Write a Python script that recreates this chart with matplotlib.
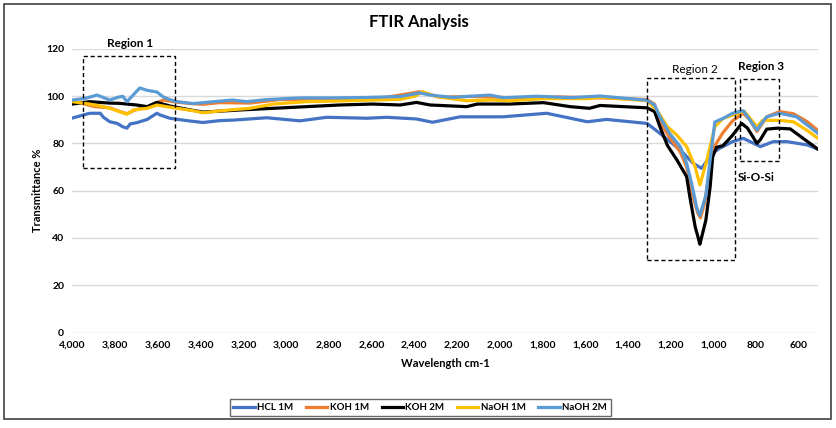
import matplotlib
matplotlib.use("Agg")
import matplotlib.pyplot as plt
from matplotlib.patches import Rectangle

plt.rcParams['font.family'] = ['Lato', 'DejaVu Sans']

# wavenumber (cm-1) / transmittance (%)
hcl_x = [4000, 3920, 3870, 3855, 3825, 3790, 3765, 3745, 3730, 3700,
         3650, 3605, 3590, 3545, 3465, 3390, 3310, 3250, 3090, 2935,
         2810, 2620, 2530, 2390, 2315, 2185, 1985, 1780, 1590, 1500,
         1310, 1250, 1155, 1095, 1055, 1005, 970, 910, 860, 795,
         780, 720, 655, 560, 510]
hcl_y = [90.7, 92.7, 92.7, 91.0, 89.1, 88.4, 87.0, 86.4, 88.2, 88.7,
         90.1, 92.7, 92.0, 90.6, 89.6, 88.8, 89.6, 89.8, 90.8, 89.5,
         91.0, 90.6, 91.0, 90.3, 88.9, 91.2, 91.2, 92.7, 89.1, 90.1,
         88.4, 84.2, 77.2, 71.6, 69.4, 75.8, 77.9, 80.7, 82.1, 79.3,
         78.6, 80.7, 80.7, 79.3, 77.5]

koh1_x = [4000, 3940, 3895, 3825, 3780, 3745, 3710, 3650, 3575, 3520,
          3450, 3390, 3310, 3170, 3030, 2795, 2560, 2375, 2280, 2140,
          1905, 1720, 1530, 1310, 1275, 1250, 1205, 1155, 1125, 1095,
          1073, 1060, 1040, 1015, 993, 955, 910, 860, 830, 796,
          750, 690, 625, 560, 510]
koh1_y = [98.0, 96.5, 95.5, 95.0, 93.5, 92.5, 94.0, 95.5, 98.3, 97.5,
          96.8, 96.5, 97.2, 97.0, 98.5, 98.8, 99.0, 101.8, 99.5, 99.8,
          99.2, 99.6, 99.2, 98.5, 96.5, 89.0, 82.5, 76.4, 70.0, 57.4,
          50.5, 48.5, 55.0, 70.0, 79.0, 84.5, 89.5, 92.7, 90.0, 85.0,
          91.2, 93.4, 92.5, 89.1, 85.4]

koh2_x = [4000, 3920, 3825, 3780, 3700, 3650, 3605, 3545, 3465, 3390,
          3310, 3215, 3060, 2905, 2750, 2595, 2465, 2390, 2325, 2155,
          2105, 1955, 1795, 1670, 1580, 1530, 1310, 1275, 1250, 1215,
          1170, 1125, 1110, 1085, 1070, 1063, 1035, 1015, 1003, 985,
          955, 910, 867, 840, 796, 780, 750, 700, 640, 580,
          510]
koh2_y = [96.6, 97.6, 97.0, 96.9, 96.2, 95.5, 97.3, 95.8, 94.4, 93.2,
          93.6, 94.1, 94.8, 95.5, 96.2, 96.6, 96.2, 97.3, 96.2, 95.5,
          96.6, 96.6, 97.2, 95.5, 94.8, 96.0, 95.0, 93.4, 87.0, 79.1,
          72.9, 65.9, 57.4, 44.7, 39.8, 37.3, 47.5, 61.6, 74.3, 78.3,
          79.0, 83.4, 88.4, 86.4, 80.0, 81.5, 86.0, 86.4, 86.1, 82.1,
          77.5]

naoh1_x = [4000, 3920, 3855, 3825, 3780, 3745, 3715, 3650, 3605, 3560,
           3510, 3435, 3390, 3340, 3265, 3170, 3060, 2905, 2750, 2595,
           2465, 2395, 2360, 2295, 2155, 2035, 1955, 1795, 1580, 1530,
           1310, 1265, 1215, 1170, 1125, 1085, 1063, 1030, 993, 955,
           890, 855, 796, 770, 690, 625, 560, 510]
naoh1_y = [97.6, 96.6, 95.5, 94.8, 93.4, 92.3, 94.1, 94.8, 96.2, 95.5,
           94.8, 93.8, 92.9, 93.4, 94.1, 94.8, 96.6, 97.6, 97.9, 98.3,
           98.6, 100.0, 101.8, 99.7, 98.0, 98.3, 98.0, 98.9, 98.9, 99.5,
           98.0, 94.1, 87.0, 83.4, 78.6, 70.0, 62.4, 72.9, 87.0, 90.5,
           92.5, 93.5, 87.0, 89.7, 89.7, 89.1, 85.4, 82.1]

naoh2_x = [4000, 3940, 3885, 3825, 3785, 3765, 3745, 3710, 3685, 3650,
           3605, 3575, 3545, 3510, 3435, 3340, 3250, 3185, 3090, 2935,
           2780, 2620, 2465, 2375, 2325, 2220, 2140, 2045, 1985, 1825,
           1670, 1530, 1310, 1275, 1250, 1205, 1155, 1125, 1100, 1077,
           1063, 1035, 1015, 993, 955, 910, 860, 830, 796, 770,
           750, 690, 610, 550, 510]
naoh2_y = [98.3, 99.0, 100.4, 98.3, 99.5, 99.9, 97.6, 101.0, 103.4, 102.4,
           101.7, 99.6, 98.5, 97.6, 96.8, 97.6, 98.3, 97.6, 98.5, 99.2,
           99.2, 99.4, 99.8, 101.3, 100.4, 99.4, 99.9, 100.4, 99.3, 99.9,
           99.3, 100.0, 98.2, 96.2, 91.2, 84.2, 78.6, 71.6, 62.4, 52.5,
           49.5, 58.0, 72.9, 89.0, 90.5, 92.7, 93.8, 90.0, 85.6, 89.0,
           91.2, 92.7, 91.2, 87.0, 84.2]

series = [
    ("HCL 1M", hcl_x, hcl_y, "#4472C4"),
    ("KOH 1M", koh1_x, koh1_y, "#ED7D31"),
    ("KOH 2M", koh2_x, koh2_y, "#000000"),
    ("NaOH 1M", naoh1_x, naoh1_y, "#FFC000"),
    ("NaOH 2M", naoh2_x, naoh2_y, "#5B9BD5"),
]

# dashed boxes: (x_left, x_right, y_bottom, y_top)
regions = [
    (3950, 3520, 69.5, 117.0),
    (1310, 900, 30.5, 107.7),
    (875, 693, 72.5, 107.0),
]

fig = plt.figure(figsize=(8.37, 4.28), dpi=100)
ax = fig.add_axes([0.0866, 0.2231, 0.8907, 0.6631])

for name, xs, ys, col in series:
    ax.plot(xs, ys, color=col, lw=2.3, label=name, solid_joinstyle='round')

for x0, x1, y0, y1 in regions:
    ax.add_patch(Rectangle((x0, y0), x1 - x0, y1 - y0, fill=False,
                           ls=(0, (3, 2)), lw=1.0, ec='black', zorder=5))

ax.text(3731, 122, "Region 1", fontsize=8.5, fontweight='bold', ha='center', va='center', clip_on=False)
ax.text(1087, 111.4, "Region 2", fontsize=8.5, ha='center', va='center')
ax.text(778, 112.3, "Region 3", fontsize=8.5, fontweight='bold', ha='center', va='center')
ax.text(797, 65.7, "Si-O-Si", fontsize=8.5, fontweight='bold', ha='center', va='center')

ax.set_xlim(4000, 510)
ax.set_ylim(0, 120)
ax.set_xticks(range(4000, 599, -200))
ax.set_xticklabels([f"{v:,}" for v in range(4000, 599, -200)])
ax.set_yticks(range(0, 121, 20))
ax.tick_params(length=0, labelsize=7.5, pad=6)
for lab in ax.get_xticklabels() + ax.get_yticklabels():
    lab.set_fontweight('bold')
ax.grid(axis='y', color='#D9D9D9', lw=1)
ax.set_axisbelow(True)
for s in ax.spines.values():
    s.set_visible(False)

ax.set_xlabel("Wavelength cm-1", fontsize=8, fontweight='bold', labelpad=6)
ax.set_ylabel("Transmittance %", fontsize=8, fontweight='bold', labelpad=2)
fig.text(0.5, 0.948, "FTIR Analysis", fontsize=12, fontweight='bold', ha='center', va='center')

leg = fig.legend(loc='center', bbox_to_anchor=(0.502, 0.047), ncol=5,
                 frameon=True, fancybox=False, handlelength=2.2, handletextpad=0.25,
                 columnspacing=1.3, borderpad=0.4,
                 prop={'weight': 'bold', 'size': 7})
leg.get_frame().set_edgecolor('#404040')
leg.get_frame().set_linewidth(1.0)

fig.patches.append(Rectangle((0.0048, 0.021), 0.988, 0.9696, transform=fig.transFigure,
                             fill=False, ec='#404040', lw=1.2))

fig.savefig("out.png", dpi=100)
